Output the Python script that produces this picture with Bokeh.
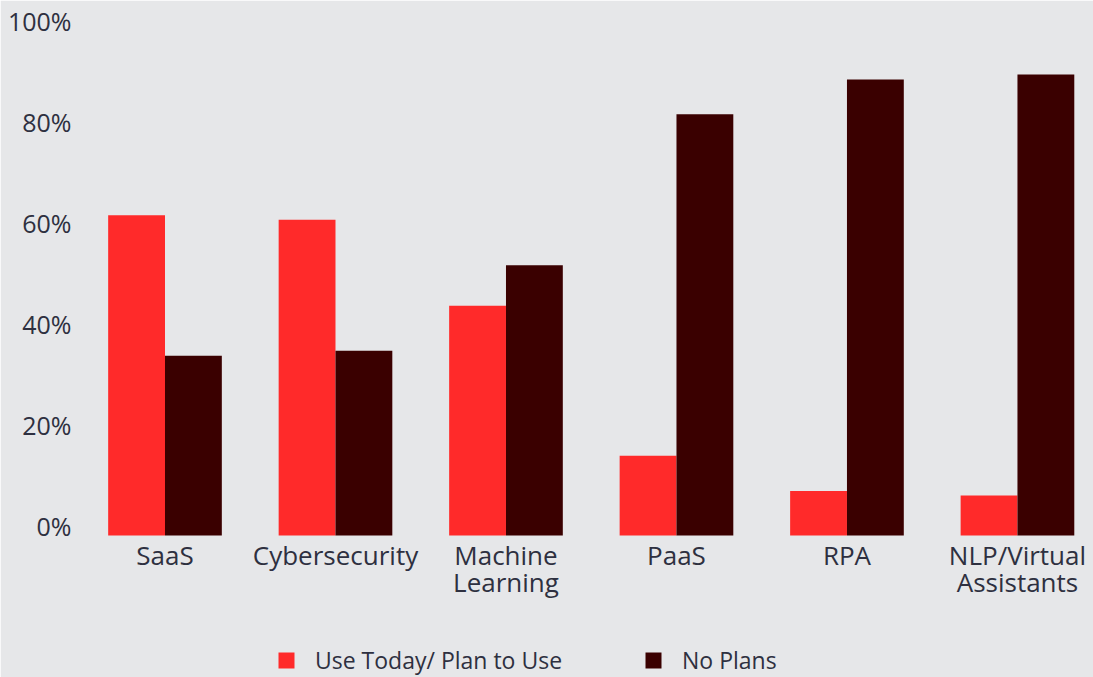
from bokeh.plotting import figure
from bokeh.models import ColumnDataSource, Range1d, LinearAxis, FixedTicker, Legend, LegendItem
from bokeh.core.properties import value
from bokeh.embed import file_html
from bokeh.resources import INLINE

categories = ["SaaS", "Cybersecurity", "Machine\nLearning", "PaaS", "RPA", "NLP/Virtual\nAssistants"]
use_today = [63.4, 62.5, 45.5, 15.8, 8.8, 7.9]
no_plans = [35.6, 36.6, 53.5, 83.4, 90.3, 91.3]
y_ticks = [0, 20, 40, 60, 80, 100]
y_tick_labels = ["0%", "20%", "40%", "60%", "80%", "100%"]
series_names = ["Use Today/ Plan to Use", "No Plans"]

BG = "#e6e7e9"
RED = "#ff2a2a"
DARK = "#3a0000"
TXT = "#2e3040"
FONT = "Open Sans"

xs = list(range(len(categories)))
src = ColumnDataSource(dict(
    x_red=[x - 1/6 for x in xs], x_dark=[x + 1/6 for x in xs],
    red=use_today, dark=no_plans))
lab_src = ColumnDataSource(dict(x=xs, y=[0] * len(xs), text=categories))

W, H = 1093, 677
PX = 5.05  # pixels per percent
y_end = 103.96
y_start = -(677 - 535) / PX
p = figure(width=W, height=H, output_backend="svg", toolbar_location=None,
           x_range=Range1d(-0.4956, 5.446), y_range=Range1d(y_start, y_end),
           min_border_left=80, min_border_right=0, min_border_top=10, min_border_bottom=0,
           background_fill_color=BG, border_fill_color=BG,
           outline_line_color=BG, outline_line_width=2)
p.xgrid.visible = False
p.ygrid.visible = False
p.xaxis.visible = False
p.yaxis.visible = False

r1 = p.vbar(x="x_red", top="red", width=1/3, source=src, fill_color=RED, line_color=None)
r2 = p.vbar(x="x_dark", top="dark", width=1/3, source=src, fill_color=DARK, line_color=None)

# category labels under the bars
p.text(x="x", y="y", text="text", source=lab_src, text_align="center", text_baseline="top",
       y_offset=2, text_font=value(FONT), text_font_size="26px", text_color=TXT,
       text_line_height=0.75)

# y axis: labels sit ~9.5px above their values
d = 9.5 / PX
p.extra_y_ranges = {"lab": Range1d(y_start - d, y_end - d)}
ya = LinearAxis(y_range_name="lab", ticker=FixedTicker(ticks=y_ticks),
                major_label_overrides={t: l for t, l in zip(y_ticks, y_tick_labels)})
ya.axis_line_color = None
ya.major_tick_line_color = None
ya.minor_tick_line_color = None
ya.major_label_text_font = FONT
ya.major_label_text_font_size = "25px"
ya.major_label_text_color = TXT
ya.major_label_standoff = 3
p.add_layout(ya, "left")

def mk_legend(item_label, renderer, loc):
    return Legend(items=[LegendItem(label=item_label, renderers=[renderer])],
                  location=loc, orientation="horizontal",
                  glyph_width=20, glyph_height=20, label_height=20,
                  label_standoff=19, padding=0, margin=0, spacing=0,
                  border_line_alpha=0, background_fill_alpha=0,
                  label_text_font=FONT, label_text_font_size="23px",
                  label_text_color=TXT)

p.add_layout(mk_legend(series_names[0], r1, (196, 1)))
p.add_layout(mk_legend(series_names[1], r2, (563, 1)))

open("out.html", "w").write(file_html(p, INLINE))
